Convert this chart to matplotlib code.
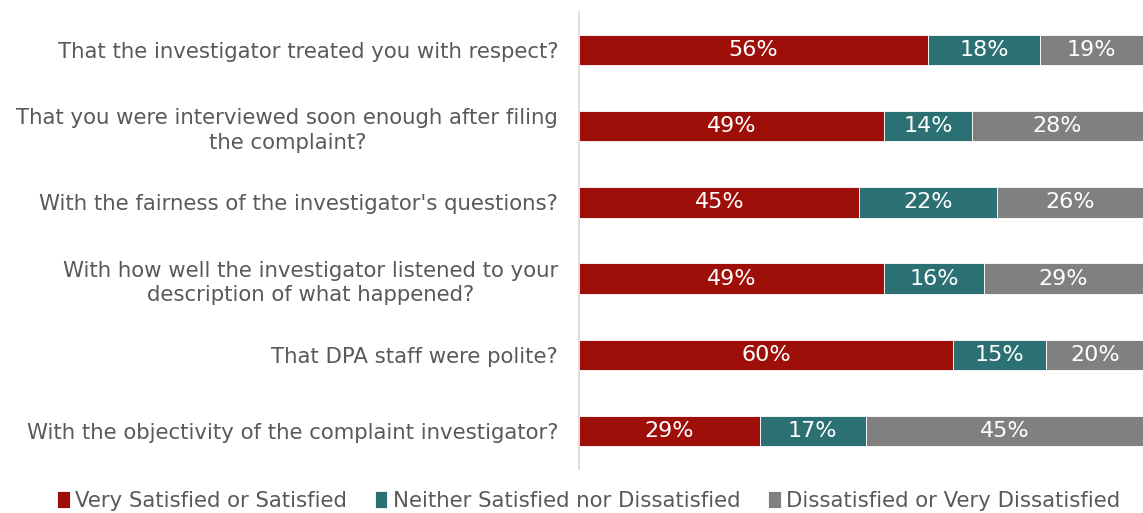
import matplotlib.pyplot as plt
import numpy as np

# data
questions = [
    "That the investigator treated you with respect?",
    "That you were interviewed soon enough after filing\nthe complaint?",
    "With the fairness of the investigator's questions?",
    "With how well the investigator listened to your\ndescription of what happened?",
    "That DPA staff were polite?",
    "With the objectivity of the complaint investigator?",
]
satisfied = [56, 49, 45, 49, 60, 29]
neither = [18, 14, 22, 16, 15, 17]
dissatisfied = [19, 28, 26, 29, 20, 45]

series_names = [
    "Very Satisfied or Satisfied",
    "Neither Satisfied nor Dissatisfied",
    "Dissatisfied or Very Dissatisfied",
]
colors = ["#9e0f0a", "#2b7072", "#808080"]
text_gray = "#595959"
x_max = 90.5


def main():
    fig = plt.figure(figsize=(11.43, 5.13), dpi=100)
    ax = fig.add_axes([0.5066, 0.0858, 0.4934, 0.8908])

    y = np.arange(len(questions))
    left = np.zeros(len(questions))
    for vals, name, col in zip([satisfied, neither, dissatisfied], series_names, colors):
        vals = np.array(vals, dtype=float)
        bars = ax.barh(y, vals, left=left, height=0.4, color=col,
                       edgecolor="white", linewidth=0.6, label=name)
        for rect, v in zip(bars, vals):
            # label sits in the middle of the visible (clipped) part of the bar
            x0 = rect.get_x()
            x1 = min(x0 + rect.get_width(), x_max)
            ax.text((x0 + x1) / 2, rect.get_y() + rect.get_height() / 2, f"{int(v)}%",
                    ha="center", va="center", color="white", fontsize=16)
        left += vals

    ax.set_xlim(0, x_max)
    ax.set_ylim(len(questions) - 0.5, -0.5)
    ax.set_yticks(y)
    ax.set_yticklabels(questions, fontsize=15.3, color=text_gray,
                       linespacing=1.3)
    for t in ax.get_yticklabels():
        t.set_multialignment("center")
    ax.tick_params(axis="y", length=0, pad=15)
    ax.set_xticks([])

    for side in ["top", "right", "bottom"]:
        ax.spines[side].set_visible(False)
    ax.spines["left"].set_color("#d9d9d9")
    ax.spines["left"].set_linewidth(1.2)

    handles, labels = ax.get_legend_handles_labels()
    leg = fig.legend(handles, labels, loc="lower center", ncol=3,
                     bbox_to_anchor=(0.515, -0.033), frameon=False,
                     fontsize=15.3, handlelength=0.6, handleheight=0.85,
                     handletextpad=0.25, columnspacing=1.3)
    for t in leg.get_texts():
        t.set_color(text_gray)

    fig.savefig("out.png", dpi=100)


if __name__ == "__main__":
    main()
